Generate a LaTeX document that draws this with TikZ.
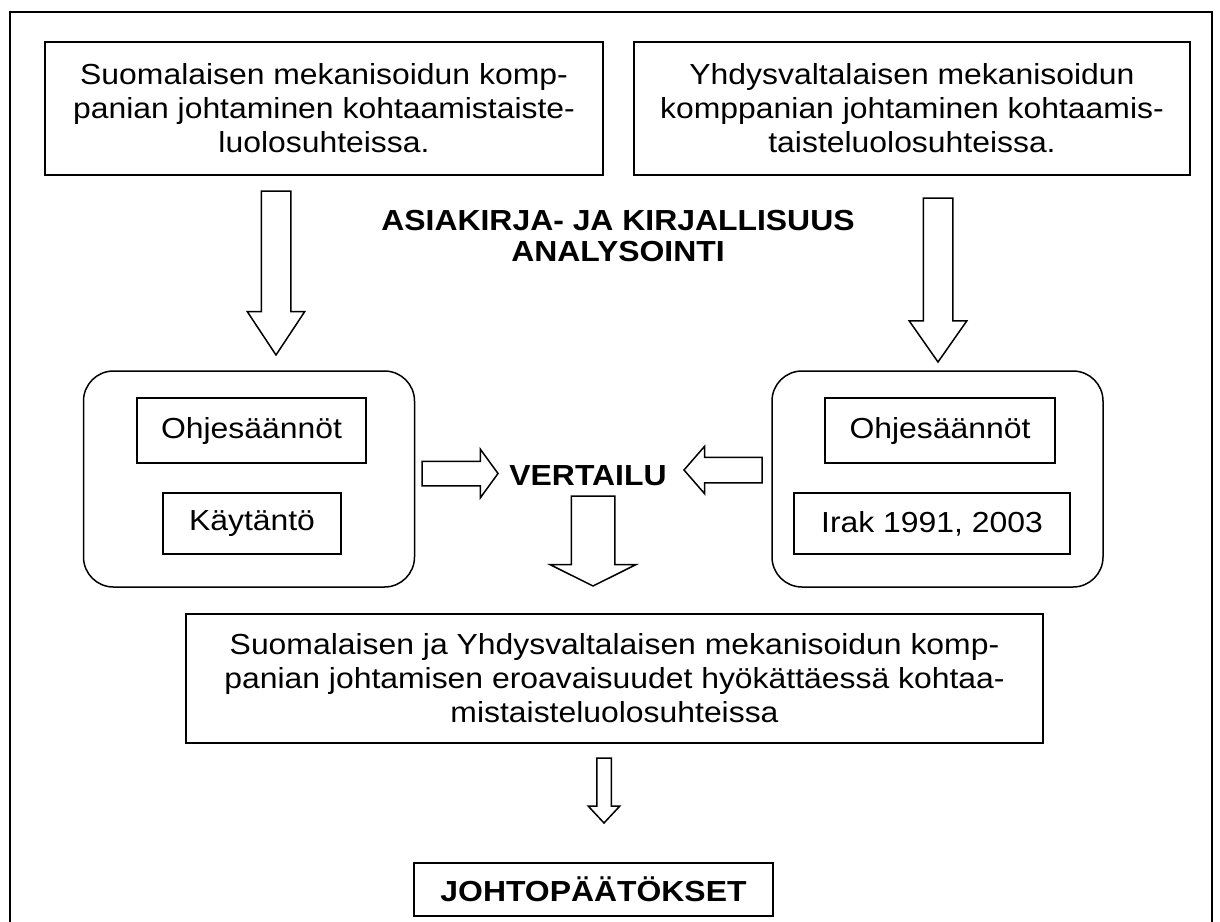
\documentclass[tikz,border=0pt]{standalone}
\usepackage{fontspec}
\setmainfont{Liberation Sans}[FakeStretch=1.1]
\usepackage{tikz}
\usetikzlibrary{shapes.arrows}

\begin{document}
\begin{tikzpicture}[x=1pt,y=-1pt,font=\fontsize{29}{34}\selectfont,
  txtbox/.style={draw,line width=2pt,align=center,inner sep=0pt},
  roundbox/.style={draw,line width=1.5pt,rounded corners=30pt,minimum width=331,minimum height=216},
  blockarr/.style={draw,line width=1.5pt,single arrow,single arrow head indent=0pt,inner xsep=0pt,outer sep=0pt,minimum width=0pt,anchor=tail},
  otsikko/.style={font=\bfseries\fontsize{29}{31}\selectfont,align=center}]
  \useasboundingbox (0,0) rectangle (1220,921);
  \draw[line width=2pt] (10,930) |- (1212,12) -- (1212,930);
  \node[txtbox,minimum width=558,minimum height=133] (suomi) at (324,108.5) {Suomalaisen mekanisoidun komp-\\panian johtaminen kohtaamistaiste-\\luolosuhteissa.};
  \node[txtbox,minimum width=556,minimum height=133] (usa) at (912,108.5) {Yhdysvaltalaisen mekanisoidun\\komppanian johtaminen kohtaamis-\\taisteluolosuhteissa.};
  \node[otsikko] (analyysi) at (618,236) {ASIAKIRJA- JA KIRJALLISUUS\\ANALYSOINTI};
  \node[roundbox] (suomiryhma) at (249,479) {};
  \node[roundbox] (usaryhma) at (937.5,479) {};
  \node[txtbox,minimum width=229,minimum height=65] (ohjeFI) at (251.5,430.5) {Ohjesäännöt};
  \node[txtbox,minimum width=178,minimum height=61] (kaytanto) at (252,523.5) {Käytäntö};
  \node[txtbox,minimum width=230,minimum height=65] (ohjeUS) at (940,430.5) {Ohjesäännöt};
  \node[txtbox,minimum width=276,minimum height=61] (irak) at (932,523.5) {Irak 1991, 2003};
  \node[otsikko] (vertailu) at (588,476) {VERTAILU};
  \node[txtbox,minimum width=857,minimum height=129] (erot) at (614.5,678.5) {Suomalaisen ja Yhdysvaltalaisen mekanisoidun komp-\\panian johtamisen eroavaisuudet hyökättäessä kohtaa-\\mistaisteluolosuhteissa};
  \node[txtbox,otsikko,minimum width=359,minimum height=53] (johto) at (593.5,889.5) {JOHTOPÄÄTÖKSET};
  \node[blockarr,rotate=-90,inner ysep=14,single arrow head extend=14,single arrow tip angle=67,minimum height=164] (nuoliFI) at (276,191) {};
  \node[blockarr,rotate=-90,inner ysep=14,single arrow head extend=14,single arrow tip angle=70,minimum height=164] (nuoliUS) at (938,198) {};
  \node[blockarr,inner ysep=11.5,single arrow head extend=12,single arrow tip angle=108,minimum height=76] (nuoliV1) at (422,473.5) {};
  \node[blockarr,rotate=180,inner ysep=12,single arrow head extend=11,single arrow tip angle=98,minimum height=78] (nuoliV2) at (762,470) {};
  \node[blockarr,rotate=-90,inner ysep=21,single arrow head extend=21,single arrow tip angle=127,minimum height=90] (nuoliE) at (593,496) {};
  \node[blockarr,rotate=-90,inner ysep=6.5,single arrow head extend=8.5,single arrow tip angle=86,minimum height=65] (nuoliJ) at (604,758) {};
\end{tikzpicture}
\end{document}
